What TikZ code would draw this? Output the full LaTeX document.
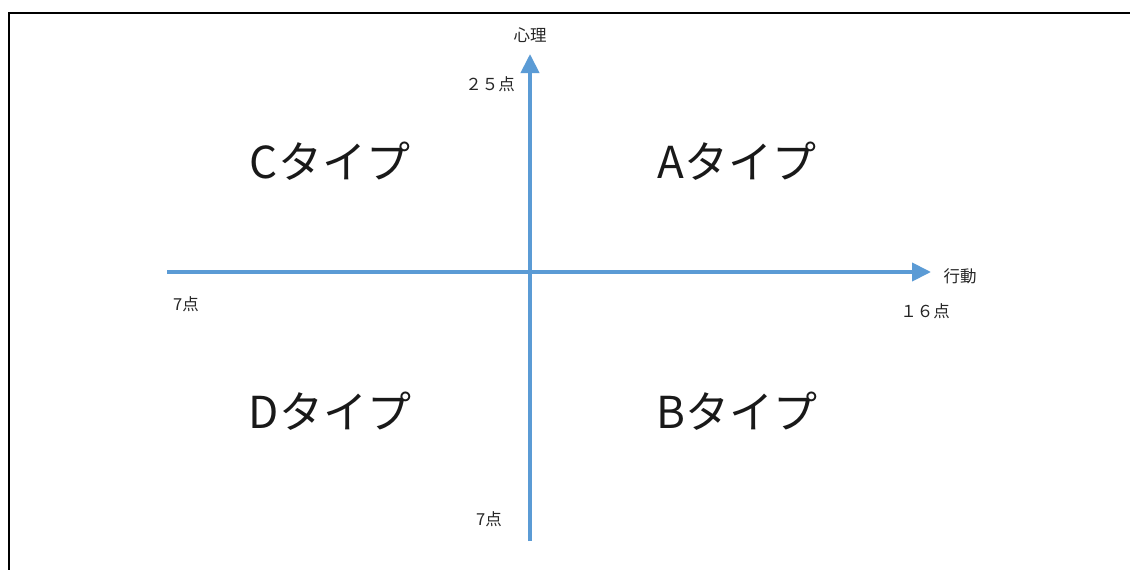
\documentclass[tikz,border=0pt]{standalone}
\usepackage{fontspec}
\newfontfamily\jp{Noto Sans CJK JP}
\usetikzlibrary{arrows.meta}
\definecolor{axisblue}{HTML}{5B9BD5}
\tikzset{
  axisline/.style={draw=axisblue, line width=4pt, -{Triangle[length=19pt,width=18pt]}},
  smalllab/.style={font=\jp\fontsize{16.5}{18}\selectfont, inner sep=0pt, text=black!85},
  typelab/.style={font=\jp\fontsize{44}{48}\selectfont, inner sep=0pt, text=black!90},
}
\begin{document}
\begin{tikzpicture}[x=1pt,y=-1pt]
\useasboundingbox (0,0) rectangle (1130,570);
\fill[white] (0,0) rectangle (1130,570);
% frame
\draw[line width=2pt] (9,580) -- (9,13) -- (1135,13);
% axes
\coordinate (vbot) at (530,541);
\coordinate (vtop) at (530,54);
\coordinate (hleft) at (167,272);
\coordinate (hright) at (931,272);
\draw[axisline] (vbot) -- (vtop);
\draw[axisline] (hleft) -- (hright);
% labels
\node[smalllab] (psy) at (530,35) {心理};
\node[smalllab] (p25) at (490,84) {２５点};
\node[smalllab] (act) at (960,276) {行動};
\node[smalllab] (p16) at (925,311) {１６点};
\node[smalllab] (p7l) at (186,304) {7点};
\node[smalllab] (p7b) at (489,519) {7点};
% types
\node[typelab] (C) at (330,161) {Cタイプ};
\node[typelab] (A) at (737,161) {Aタイプ};
\node[typelab] (D) at (330,411) {Dタイプ};
\node[typelab] (B) at (737,411) {Bタイプ};
\end{tikzpicture}
\end{document}
